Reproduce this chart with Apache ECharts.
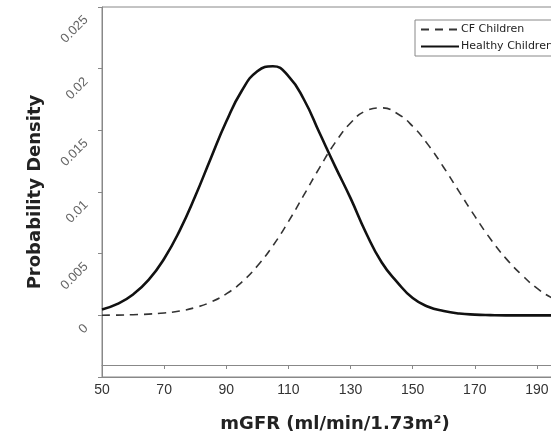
<!DOCTYPE html>
<html>
<head>
<meta charset="utf-8">
<script src="https://cdn.jsdelivr.net/npm/echarts@6/dist/echarts.min.js"></script>
<style>
html,body{margin:0;padding:0;background:#fff;}
#chart{width:551px;height:436px;}
</style>
</head>
<body>
<div id="chart"></div>
<script>
// mGFR values (ml/min/1.73m²)
var mgfr = [50,55,60,65,70,75,80,85,90,95,100,105,110,115,120,125,130,135,140,145,150,155,160,165,170,175,180,185,190,195,200];
// Probability density
var healthyChildren = [0.00048,0.00093,0.00169,0.00287,0.00459,0.00687,0.00965,0.01272,0.01571,0.01821,0.01979,0.0202,0.0194,0.0175,0.0148,0.0121,0.0095,0.00668,0.0043,0.0027,0.0014,0.0007,0.00035,0.00015,0.00006,0.00002,0,0,0,0,0];
var cfChildren = [0.00001,0.00002,0.00005,0.0001,0.00019,0.00035,0.00063,0.00107,0.00174,0.0027,0.004,0.00564,0.0076,0.00976,0.01196,0.01398,0.01559,0.01658,0.01682,0.01637,0.01533,0.01382,0.01199,0.01001,0.00804,0.00621,0.00462,0.00331,0.0022,0.0014,0.0009];
var xTicks = [50,70,90,110,130,150,170,190];
var yTicks = [0,0.005,0.01,0.015,0.02,0.025];
var seriesNames = ['CF Children','Healthy Children'];

function pairs(xs, ys){ return xs.map(function(x,i){ return [x, ys[i]]; }); }

var chart = echarts.init(document.getElementById('chart'), null, {renderer:'canvas'});
chart.setOption({
  animation:false,
  backgroundColor:'#fff',
  grid:{left:102, top:7, width:466, height:370, containLabel:false, outerBoundsMode:'none',
    show:true, borderColor:'#888', borderWidth:1, backgroundColor:'transparent'},
  legend:{
    left:415, top:20, orient:'vertical',
    data:seriesNames,
    itemWidth:38, itemHeight:10, itemGap:6,
    padding:[4,5,4,5],
    borderColor:'#888', borderWidth:1, backgroundColor:'#fff',
    itemStyle:{opacity:0, borderWidth:0},
    textStyle:{fontFamily:'DejaVu Sans', fontSize:11, color:'#222', padding:[0,0,0,-3]}
  },
  xAxis:[{
    type:'value', min:50, max:200, interval:20,
    axisLine:{show:true, onZero:false, lineStyle:{color:'#888', width:1}},
    axisTick:{show:false},
    splitLine:{show:false},
    axisLabel:{margin:6, fontFamily:'Liberation Sans, Arial', fontSize:14, color:'#333',
      formatter:function(v){ return xTicks.indexOf(v) >= 0 ? String(v) : ''; }},
    name:'mGFR (ml/min/1.73m²)', nameLocation:'middle', nameGap:38,
    nameTextStyle:{fontFamily:'DejaVu Sans', fontWeight:'bold', fontSize:18, color:'#222'}
  },{
    type:'value', min:50, max:200, interval:20, position:'bottom', offset:-12,
    axisLine:{show:true, onZero:false, lineStyle:{color:'#888', width:1}},
    axisTick:{show:true, length:4, lineStyle:{color:'#888'}},
    splitLine:{show:false},
    axisLabel:{show:false}
  }],
  yAxis:{
    type:'value', min:-0.005, max:0.025, interval:0.005,
    axisLine:{show:true, onZero:false, lineStyle:{color:'#888', width:1}},
    axisTick:{show:true, length:4, lineStyle:{color:'#888'}},
    splitLine:{show:false},
    axisLabel:{rotate:45, margin:17, verticalAlign:'top', padding:[2,7,0,0],
      fontFamily:'Liberation Sans, Arial', fontSize:13, color:'#666',
      formatter:function(v){ var r = parseFloat(v.toFixed(3)); return yTicks.indexOf(r) >= 0 ? String(r) : ''; }},
    name:'Probability Density', nameLocation:'middle', nameGap:58,
    nameTextStyle:{fontFamily:'DejaVu Sans', fontWeight:'bold', fontSize:18, color:'#222'}
  },
  series:[{
    name:seriesNames[0], type:'line', data:pairs(mgfr, cfChildren), xAxisIndex:0,
    smooth:true, showSymbol:false, symbol:'none',
    lineStyle:{color:'#333', width:1.6, type:[8,6]},
    itemStyle:{color:'#333'}
  },{
    name:seriesNames[1], type:'line', data:pairs(mgfr, healthyChildren), xAxisIndex:0,
    smooth:true, showSymbol:false, symbol:'none',
    lineStyle:{color:'#111', width:2.6, type:'solid'},
    itemStyle:{color:'#111'}
  }]
});
</script>
</body>
</html>
